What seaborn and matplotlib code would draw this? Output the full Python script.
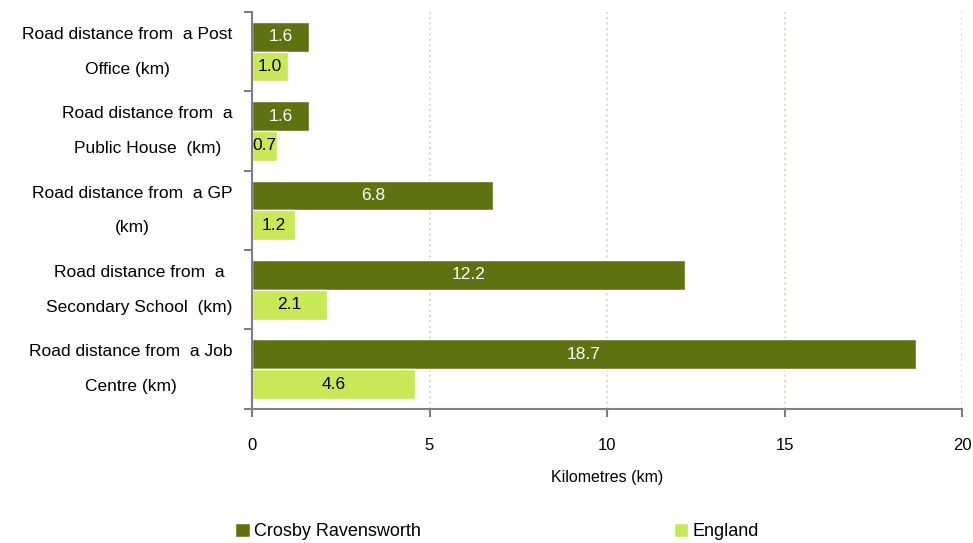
import pandas as pd
import seaborn as sns
import matplotlib.pyplot as plt
from matplotlib.patches import Patch

categories = [
    'Road distance from  a Post\nOffice (km)',
    'Road distance from  a\nPublic House  (km)',
    'Road distance from  a GP\n(km)',
    'Road distance from  a\nSecondary School  (km)',
    'Road distance from  a Job\nCentre (km)',
]
crosby = [1.6, 1.6, 6.8, 12.2, 18.7]
england = [1.0, 0.7, 1.2, 2.1, 4.6]
series = ['Crosby Ravensworth', 'England']
colors = ['#5f7211', '#c8e858']

df = pd.DataFrame({
    'category': categories * 2,
    'km': crosby + england,
    'area': [series[0]] * len(categories) + [series[1]] * len(categories),
})

sns.set_style('white')
plt.rcParams['font.family'] = ['Liberation Sans', 'DejaVu Sans']
plt.rcParams['text.color'] = 'black'
plt.rcParams['axes.labelcolor'] = 'black'
plt.rcParams['xtick.labelcolor'] = 'black'
plt.rcParams['ytick.labelcolor'] = 'black'

fig = plt.figure(figsize=(9.73, 5.43), dpi=100)
ax = fig.add_axes([0.259, 0.247, 0.7297, 0.731])

sns.barplot(data=df, x='km', y='category', hue='area', palette=colors,
            orient='h', width=0.75, saturation=1, legend=False, ax=ax)

for cont, tc in zip(ax.containers, ['white', 'black']):
    ax.bar_label(cont, labels=[f'{v:.1f}' for v in cont.datavalues],
                 label_type='center', color=tc, fontsize=12.5)

ax.set_xlim(0, 20)
ax.set_ylim(len(categories) - 0.5, -0.5)
ax.set_xticks([0, 5, 10, 15, 20])
ax.tick_params(axis='x', bottom=True, direction='out', length=6, width=1.5,
               color='#808080', pad=15, labelsize=12)
ax.set_xlabel('Kilometres (km)', fontsize=11.5, labelpad=12)
ax.set_ylabel('')

ax.set_yticks(range(len(categories)))
ax.set_yticklabels(categories, fontsize=12.5, linespacing=2.65,
                   ha='right', va='center', multialignment='center')
ax.tick_params(axis='y', which='major', left=True, length=0, pad=14)
ax.set_yticks([i - 0.5 for i in range(len(categories) + 1)], minor=True)
ax.tick_params(axis='y', which='minor', left=True, direction='out', length=6,
               width=1.5, color='#808080')

ax.xaxis.grid(True, linestyle=(0, (1, 2)), color='#d3d6b8', linewidth=1.3)
ax.yaxis.grid(False)
ax.set_axisbelow(True)
for s in ['top', 'right']:
    ax.spines[s].set_visible(False)
for s in ['left', 'bottom']:
    ax.spines[s].set_color('#808080')
    ax.spines[s].set_linewidth(1.5)

handles = [Patch(facecolor=c, label=l) for c, l in zip(colors, series)]
fig.legend(handles=handles, loc='lower left', bbox_to_anchor=(0.225, -0.025),
           ncol=2, frameon=False, fontsize=13, columnspacing=14,
           handlelength=0.8, handleheight=0.8, handletextpad=0.25)

fig.savefig('out.png', dpi=100)
